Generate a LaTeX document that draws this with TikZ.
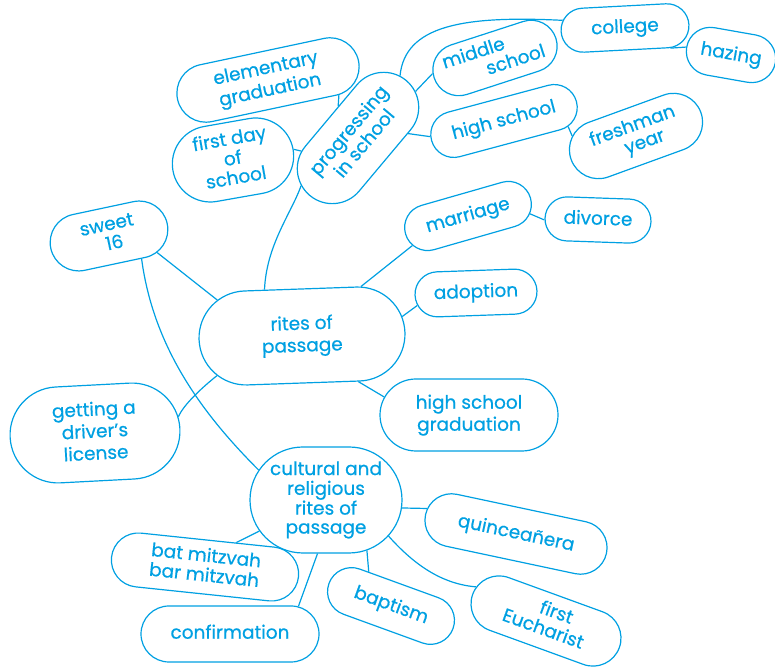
\documentclass[tikz,border=0pt]{standalone}
\usepackage{fontspec}
\setmainfont{Poppins}[FakeBold=0.6]
\usetikzlibrary{shapes.misc}
\definecolor{ink}{RGB}{0,160,226}
\newcommand\blobtext[2][1]{\makebox[0pt][c]{\smash{\raisebox{-0.25em}{\def\arraystretch{#1}\begin{tabular}[c]{@{}c@{}}#2\end{tabular}}}}}
\tikzset{
  blob/.style={rounded rectangle, draw=ink, line width=1.2pt, inner sep=0pt, text=ink,
    font=\fontsize{18.5}{22}\selectfont},
  link/.style={draw=ink, line width=1.2pt},
}
\begin{document}
\begin{tikzpicture}[x=1pt,y=1pt]
\useasboundingbox (0,0) rectangle (775,668);
% nodes
\node[blob, rotate=12, minimum width=185pt, minimum height=58pt] (eg) at (268,588) {\blobtext{elementary\\graduation}};
\node[blob, rotate=10, minimum width=122pt, minimum height=76pt] (fd) at (233,508) {\blobtext[0.88]{first day\\of\\school}};
\node[blob, rotate=50, minimum width=150pt, minimum height=70pt] (pr) at (358,530) {\blobtext[0.92]{progressing\\in school}};
\node[blob, rotate=18, minimum width=128pt, minimum height=52pt] (ms) at (495,610) {\blobtext[0.88]{middle\hspace*{38pt}\\\hspace*{38pt}school}};
\node[blob, rotate=3, minimum width=128pt, minimum height=44pt] (co) at (625,640) {\blobtext{college}};
\node[blob, rotate=-10, minimum width=90pt, minimum height=48pt] (hz) at (731,613) {\blobtext{hazing}};
\node[blob, rotate=15, minimum width=150pt, minimum height=46pt] (hs) at (504,547) {\blobtext{high school}};
\node[blob, rotate=20, minimum width=138pt, minimum height=58pt] (fy) at (636,532) {\blobtext[0.88]{freshman\\\hspace*{12pt}year}};
\node[blob, rotate=12, minimum width=119pt, minimum height=57pt] (s16) at (109,432) {\blobtext[0.88]{sweet\\\hspace*{8pt}16}};
\node[blob, rotate=2, minimum width=206pt, minimum height=94pt] (rp) at (302,332) {\blobtext{rites of\\passage}};
\node[blob, rotate=16, minimum width=130pt, minimum height=46pt] (ma) at (468,452) {\blobtext{marriage}};
\node[blob, rotate=-2, minimum width=106pt, minimum height=44pt] (dv) at (598,448) {\blobtext{divorce}};
\node[blob, rotate=2, minimum width=122pt, minimum height=45pt] (ad) at (476,375) {\blobtext{adoption}};
\node[blob, minimum width=178pt, minimum height=72pt] (hsg) at (469,253) {\blobtext{high school\\graduation}};
\node[blob, rotate=3, minimum width=170pt, minimum height=96pt] (dl) at (95,235) {\blobtext{getting a\\driver's\\license}};
\node[blob, minimum width=152pt, minimum height=106pt] (cr) at (326,168) {\blobtext[0.86]{cultural and\\religious\\rites of\\passage}};
\node[blob, rotate=-6, minimum width=188pt, minimum height=54pt] (bm) at (205,101) {\blobtext[0.86]{bat mitzvah\\bar mitzvah}};
\node[blob, minimum width=178pt, minimum height=56pt] (cf) at (230,34) {\blobtext{confirmation}};
\node[blob, rotate=-20, minimum width=132pt, minimum height=48pt] (bp) at (391,62) {\blobtext{baptism}};
\node[blob, rotate=-12, minimum width=185pt, minimum height=53pt] (qn) at (516,134) {\blobtext{quinceañera}};
\node[blob, rotate=-20, minimum width=156pt, minimum height=56pt] (fe) at (546,47) {\blobtext[0.88]{\hspace*{14pt}first\\Eucharist}};
% connectors
\draw[link] (rp.127) .. controls +(2,45) and +(-10,-28) .. (pr.170);
\draw[link] (pr.72) -- (eg.-24);
\draw[link] (pr.143) -- (fd.0);
\draw[link] (pr.6) .. controls +(5,50) and +(-100,5) .. (co.170);
\draw[link] (pr.-11) -- (ms.176);
\draw[link] (pr.-45) -- (hs.177);
\draw[link] (co.-27) -- (hz.180);
\draw[link] (hs.-20) -- (fy.160);
\draw[link] (s16.-31) -- (rp.155);
\draw[link] (s16.-47) .. controls +(12,-90) and +(-55,55) .. (cr.156);
\draw[link] (rp.38) -- (ma.192);
\draw[link] (ma.-14) -- (dv.182);
\draw[link] (rp.9) -- (ad.190);
\draw[link] (rp.-41) -- (hsg.168);
\draw[link] (rp.203) .. controls +(-15,-12) and +(5,12) .. (dl.8);
\draw[link] (cr.205) -- (bm.44);
\draw[link] (cr.261) -- (cf.22);
\draw[link] (cr.-51) -- (bp.143);
\draw[link] (cr.-6) -- (qn.176);
\draw[link] (cr.-30) .. controls +(25,-28) and +(-35,3) .. (fe.174);
\end{tikzpicture}
\end{document}
